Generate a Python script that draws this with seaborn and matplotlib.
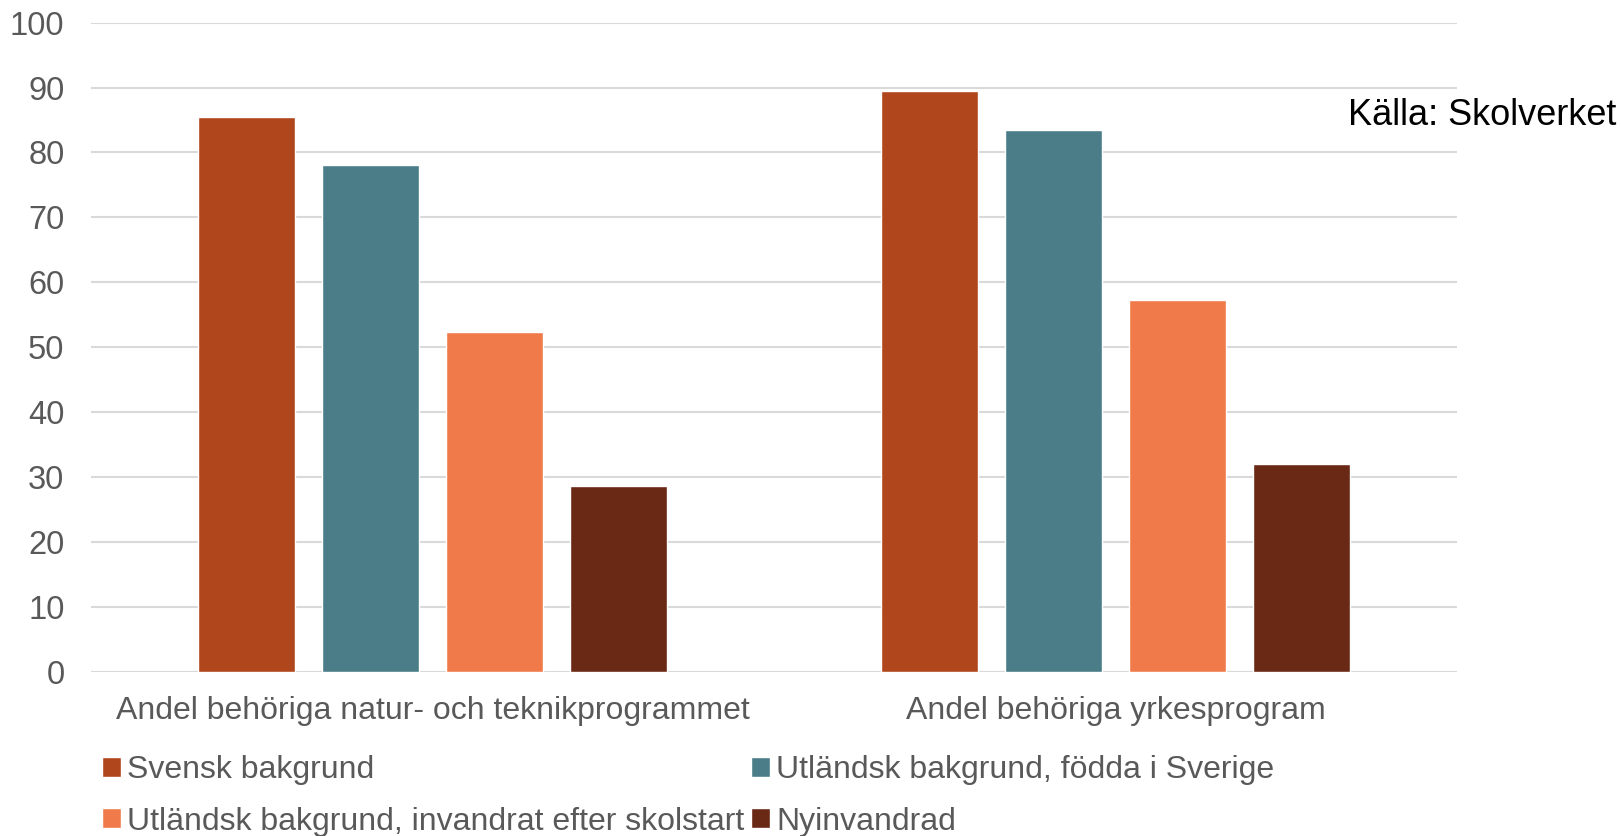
import pandas as pd
import matplotlib
matplotlib.use("Agg")
import matplotlib.pyplot as plt
import seaborn as sns

categories = ["Andel behöriga natur- och teknikprogrammet", "Andel behöriga yrkesprogram"]
groups = ["Svensk bakgrund", "Utländsk bakgrund, födda i Sverige",
          "Utländsk bakgrund, invandrat efter skolstart", "Nyinvandrad"]
svensk = [85.4, 89.5]
fodda_i_sverige = [78.0, 83.4]
invandrat_efter_skolstart = [52.4, 57.3]
nyinvandrad = [28.7, 32.0]
colors = ["#B0461C", "#4A7D87", "#F07A4A", "#6A2914"]

rows = []
for g, vals in zip(groups, [svensk, fodda_i_sverige, invandrat_efter_skolstart, nyinvandrad]):
    for c, v in zip(categories, vals):
        rows.append({"kategori": c, "grupp": g, "andel": v})
df = pd.DataFrame(rows)

sns.set_style("white")
plt.rcParams["font.family"] = ["Liberation Sans", "DejaVu Sans"]

fig = plt.figure(figsize=(16.21, 8.36), dpi=100)
ax = fig.add_axes([0.056, 0.196, 0.843, 0.777])

sns.barplot(data=df, x="kategori", y="andel", hue="grupp", hue_order=groups,
            palette=colors, width=0.726, gap=0.217, saturation=1, ax=ax, zorder=3)

ax.set_ylim(0, 100)
ax.set_xlim(-0.5, 1.5)
ax.set_yticks(range(0, 101, 10))
ax.yaxis.grid(True, color="#D9D9D9", linewidth=1.5, zorder=0)
ax.set_axisbelow(True)
for s in ax.spines.values():
    s.set_visible(False)
ax.axhline(0, color="#D9D9D9", linewidth=1.5, zorder=1)
ax.set_xlabel("")
ax.set_ylabel("")
ax.tick_params(axis="y", length=0, pad=19, labelsize=23.5, labelcolor="#595959")
ax.tick_params(axis="x", length=0, pad=17, labelsize=23, labelcolor="#595959")

handles, labels = ax.get_legend_handles_labels()
ax.get_legend().remove()
order = [0, 2, 1, 3]
fig.legend([handles[i] for i in order], [labels[i] for i in order],
           loc="upper left", bbox_to_anchor=(0.063, 0.097), ncol=2, frameon=False,
           fontsize=23, labelcolor="#595959", handlelength=0.58, handleheight=0.58,
           handletextpad=0.2, columnspacing=0.22, labelspacing=0.68, borderaxespad=0,
           borderpad=0)

fig.text(0.997, 0.862, "Källa: Skolverket", ha="right", va="center", fontsize=26, color="black")

fig.savefig("out.png", dpi=100)
